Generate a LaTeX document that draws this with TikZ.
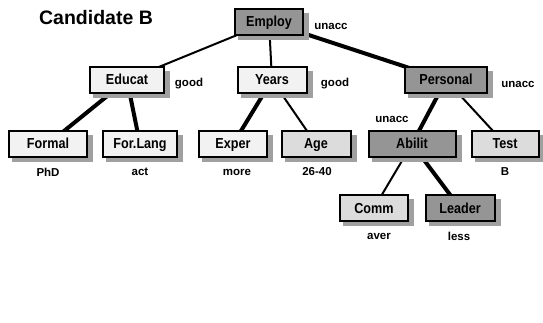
\documentclass[tikz,border=0pt]{standalone}
\usepackage{fontspec}
\setmainfont{Liberation Sans}
\newfontfamily\boxfont{Liberation Sans}[FakeStretch=0.87]
\usetikzlibrary{backgrounds}
\definecolor{dk}{HTML}{959595}
\definecolor{lt}{HTML}{F2F2F2}
\definecolor{md}{HTML}{DCDCDC}
\definecolor{sh}{HTML}{A0A0A0}
\tikzset{
  box/.style={draw=black, line width=2pt, minimum height=26pt, inner sep=0pt,
    text height=10.5pt, text depth=0.5pt,
    font=\boxfont\fontsize{14.5}{16}\selectfont\bfseries},
  lab/.style={font=\fontsize{11.5}{13}\selectfont\bfseries, inner sep=0pt},
  thin/.style={line width=2pt},
  thick/.style={line width=4pt},
}
\begin{document}
\begin{tikzpicture}[x=1pt,y=-1pt]
\useasboundingbox (0,0) rectangle (543,323);
\node[font=\fontsize{19.5}{22}\selectfont\bfseries, inner sep=0pt] (title) at (96,18) {Candidate B};
\node[box, fill=dk, minimum width=68pt] (employ) at (269,22) {Employ};
\node[box, fill=lt, minimum width=74pt] (educat) at (127,80) {Educat};
\node[box, fill=lt, minimum width=69pt] (years) at (272,80) {Years};
\node[box, fill=dk, minimum width=82pt] (personal) at (446,80) {Personal};
\node[box, fill=lt, minimum width=78pt] (formal) at (48,144) {Formal};
\node[box, fill=lt, minimum width=74pt] (forlang) at (140,144) {For.Lang};
\node[box, fill=lt, minimum width=68pt] (exper) at (233,144) {Exper};
\node[box, fill=md, minimum width=69pt] (age) at (316,144) {Age};
\node[box, fill=dk, minimum width=87pt] (abilit) at (412,144) {Abilit};
\node[box, fill=md, minimum width=67pt] (test) at (505,144) {Test};
\node[box, fill=md, minimum width=68pt] (comm) at (374,208) {Comm};
\node[box, fill=dk, minimum width=69pt] (leader) at (460,208) {Leader};
\node[lab] (lemploy) at (331,26) {unacc};
\node[lab] (leducat) at (189,84) {good};
\node[lab] (lyears) at (335,84) {good};
\node[lab] (lpersonal) at (518,84) {unacc};
\node[lab] (labilit) at (392,119) {unacc};
\node[lab] (lformal) at (48,172) {PhD};
\node[lab] (lforlang) at (140,172) {act};
\node[lab] (lexper) at (237,172) {more};
\node[lab] (lage) at (317,172) {26-40};
\node[lab] (ltest) at (505,172) {B};
\node[lab] (lcomm) at (379,236) {aver};
\node[lab] (lleader) at (459,236) {less};
\begin{scope}[on background layer]
\draw[thin] (employ.center) -- (educat.center);
\draw[thin] (employ.center) -- (years.center);
\draw[thick] (employ.center) -- (personal.center);
\draw[thick] (educat.center) -- (formal.center);
\draw[thick] (educat.center) -- (forlang.center);
\draw[thick] (years.center) -- (exper.center);
\draw[thin] (years.center) -- (age.center);
\draw[thick] (personal.center) -- (abilit.center);
\draw[thin] (personal.center) -- (test.center);
\draw[thin] (abilit.center) -- (comm.center);
\draw[thick] (abilit.center) -- (leader.center);
\foreach \n in {employ,educat,years,personal,formal,forlang,exper,age,abilit,test,comm,leader}
  \fill[sh] ([shift={(4,4)}]\n.south west) rectangle ([shift={(5,5)}]\n.north east);
\end{scope}
\end{tikzpicture}
\end{document}
